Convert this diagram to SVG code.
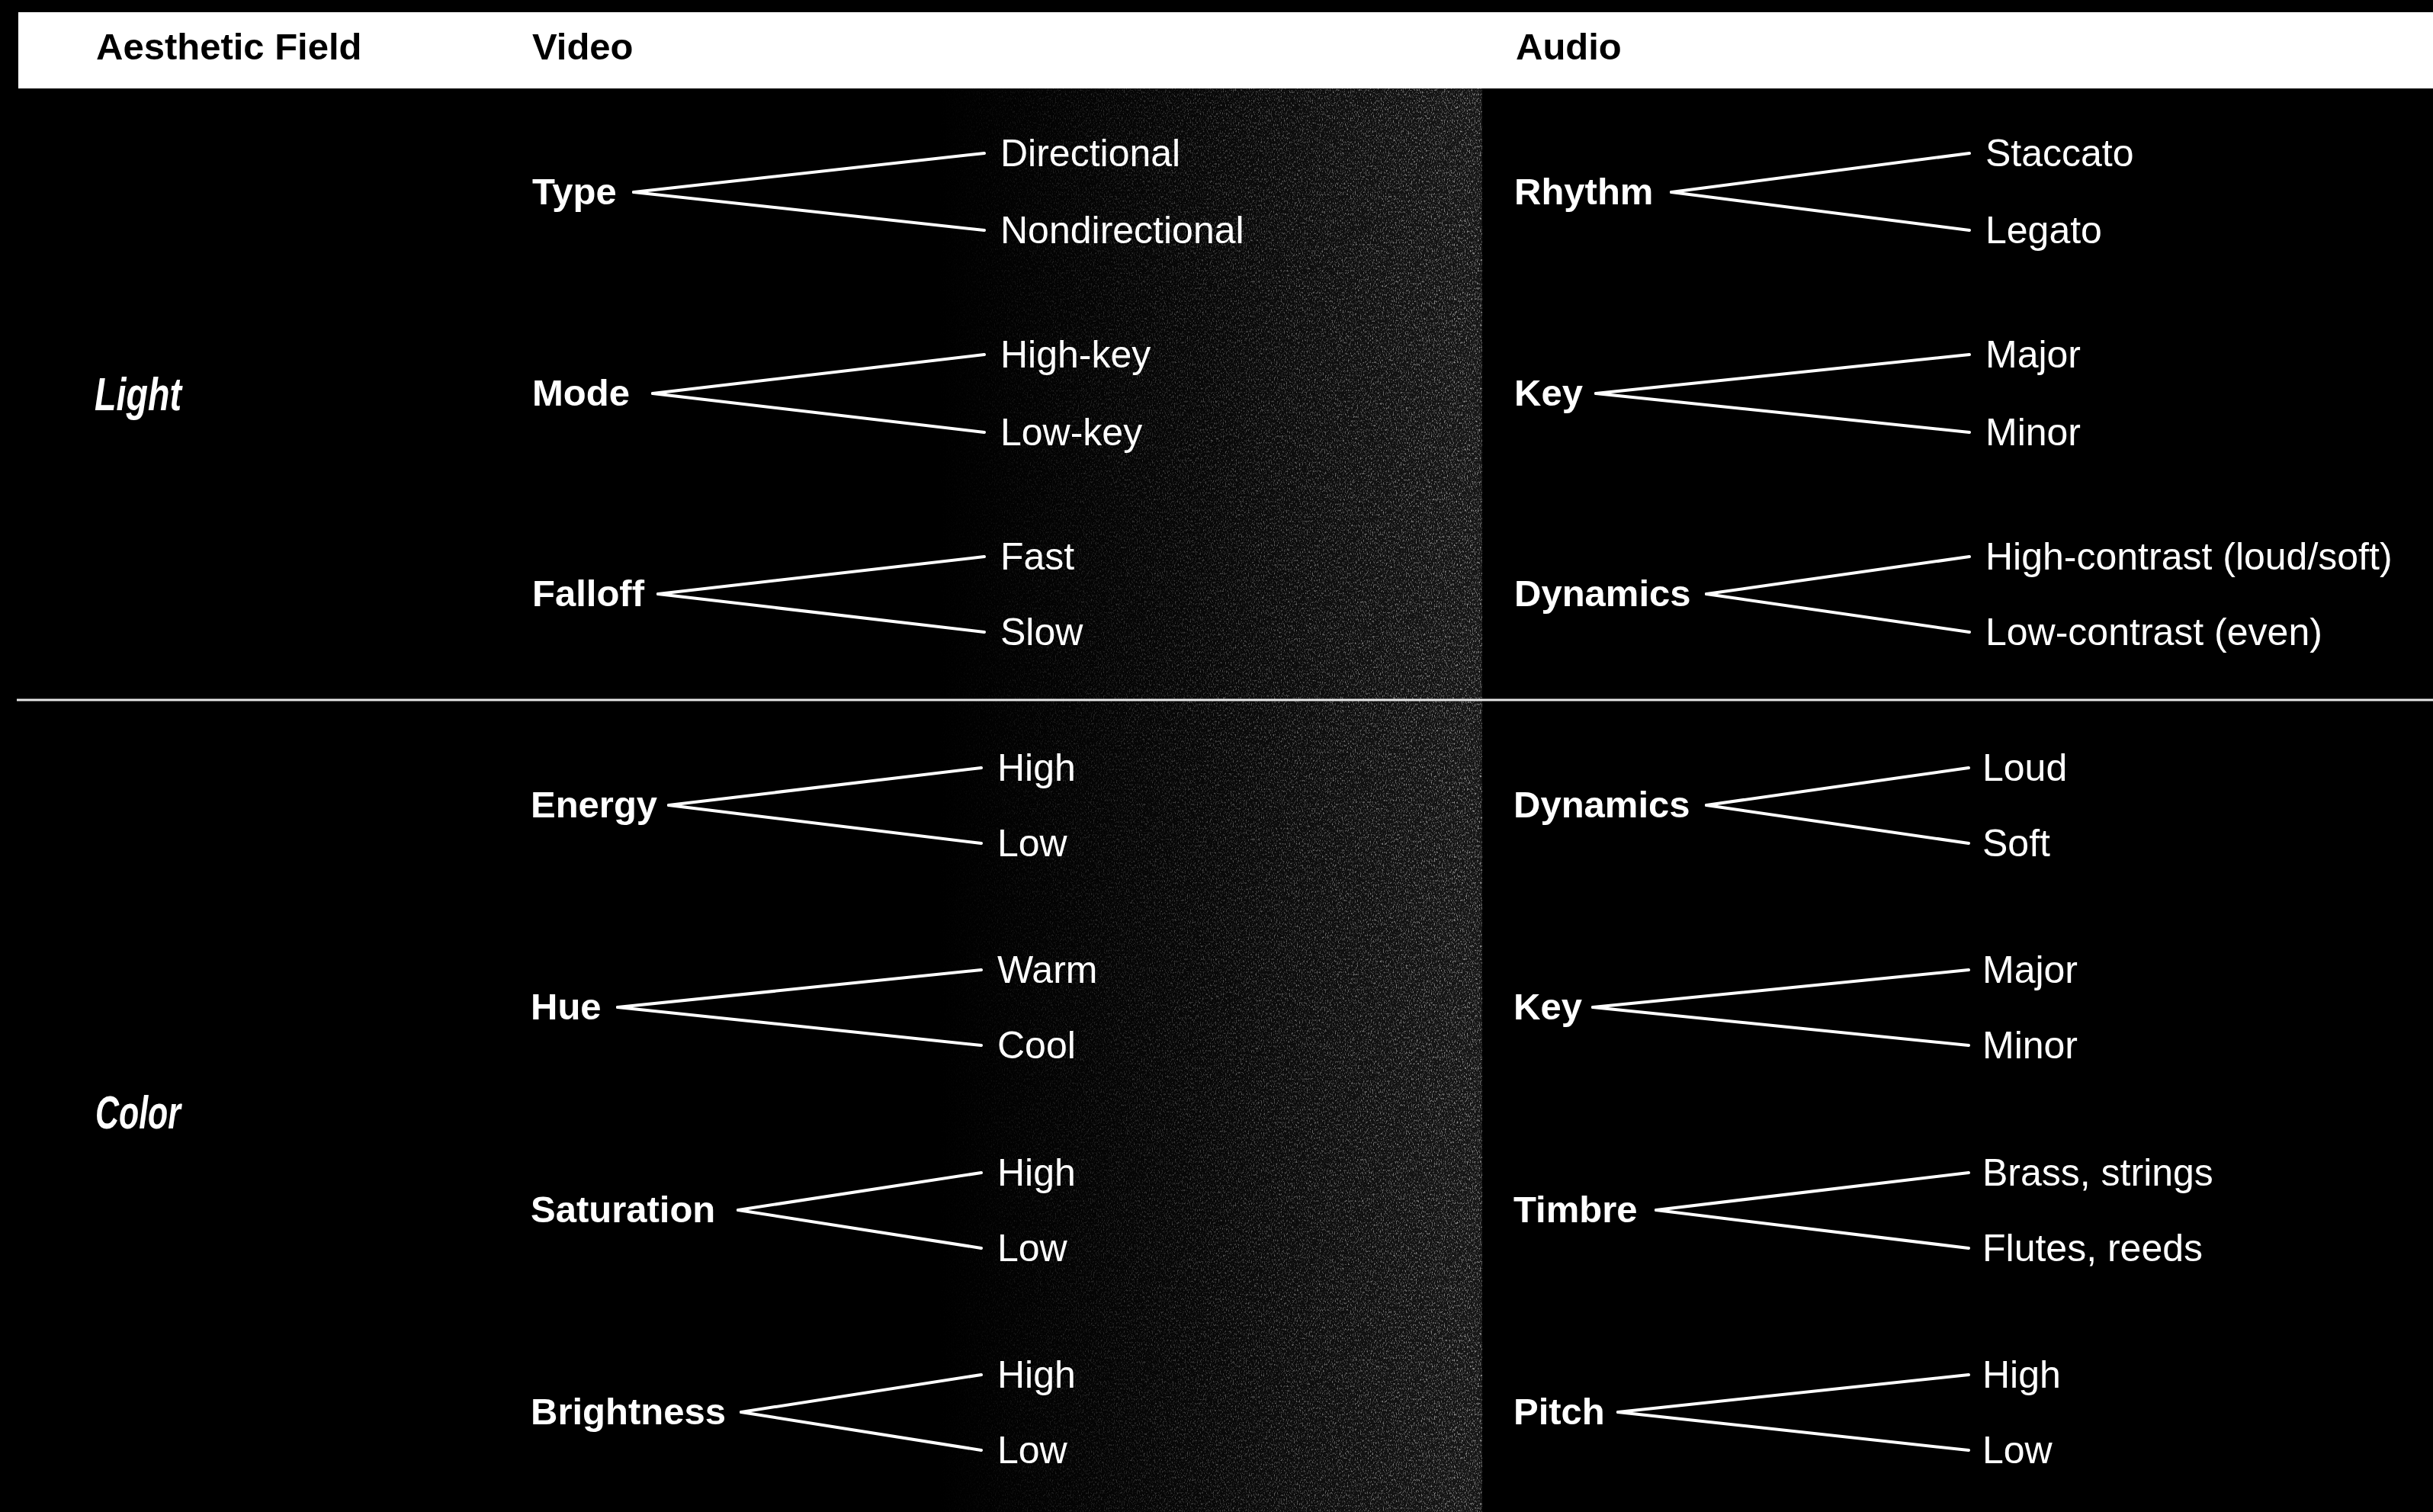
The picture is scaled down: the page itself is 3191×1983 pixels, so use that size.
<svg xmlns="http://www.w3.org/2000/svg" width="3191" height="1983" viewBox="0 0 3191 1983">
<style>
text{font-family:"Liberation Sans",Arial,sans-serif;fill:#fff}
.hd{font-weight:bold;font-size:49px;fill:#000}
.lb{font-weight:bold;font-size:49px}
.ch{font-size:50px}
.fd{font-weight:bold;font-style:italic;font-size:62px}
.cn line{stroke:#fff;stroke-width:4;stroke-linecap:round}
</style>
<defs>
<linearGradient id="band" x1="0" y1="0" x2="1" y2="0">
<stop offset="0" stop-color="#000"/>
<stop offset="0.5" stop-color="#080808"/>
<stop offset="1" stop-color="#161616"/>
</linearGradient>
<linearGradient id="bandA" x1="0" y1="0" x2="1" y2="0">
<stop offset="0" stop-color="#fff" stop-opacity="0"/>
<stop offset="0.45" stop-color="#fff" stop-opacity="0.25"/>
<stop offset="1" stop-color="#fff" stop-opacity="0.55"/>
</linearGradient>
<filter id="noise" x="0" y="0" width="1" height="1">
<feTurbulence type="fractalNoise" baseFrequency="0.7 0.35" numOctaves="2" seed="7" result="t"/>
<feColorMatrix in="t" type="matrix" values="0 0 0 0 1 0 0 0 0 1 0 0 0 0 1 4 0 0 0 -2.1" result="specks"/>
<feComposite in="specks" in2="SourceGraphic" operator="in"/>
</filter>
</defs>
<rect width="3191" height="1983" fill="#000"/>
<g id="texture">
<rect x="1230" y="116" width="714" height="1867" fill="url(#band)"/>
<rect x="1230" y="116" width="714" height="1867" fill="url(#bandA)" filter="url(#noise)"/>
</g>
<g id="header">
<rect x="24" y="16" width="3167" height="100" fill="#fff"/>
<text class="hd" x="126" y="78">Aesthetic Field</text>
<text class="hd" x="698" y="78">Video</text>
<text class="hd" x="1988" y="78">Audio</text>
</g>
<line id="divider" x1="22" y1="918" x2="3191" y2="918" stroke="#e6e6e6" stroke-width="3"/>
<g id="field-light"><text class="fd" x="124" y="538" textLength="114" lengthAdjust="spacingAndGlyphs">Light</text></g>
<g id="field-color"><text class="fd" x="125" y="1480" textLength="112" lengthAdjust="spacingAndGlyphs">Color</text></g>

<g class="cn" id="connectors">
<line x1="831" y1="252" x2="1291" y2="201"/><line x1="831" y1="252" x2="1291" y2="302"/>
<line x1="856" y1="516" x2="1291" y2="465"/><line x1="856" y1="516" x2="1291" y2="567"/>
<line x1="863" y1="779" x2="1291" y2="730"/><line x1="863" y1="779" x2="1291" y2="829"/>
<line x1="877" y1="1056" x2="1287" y2="1007"/><line x1="877" y1="1056" x2="1287" y2="1106"/>
<line x1="810" y1="1321" x2="1287" y2="1272"/><line x1="810" y1="1321" x2="1287" y2="1371"/>
<line x1="968" y1="1587" x2="1287" y2="1538"/><line x1="968" y1="1587" x2="1287" y2="1637"/>
<line x1="972" y1="1852" x2="1287" y2="1803"/><line x1="972" y1="1852" x2="1287" y2="1902"/>
<line x1="2192" y1="252" x2="2583" y2="201"/><line x1="2192" y1="252" x2="2583" y2="302"/>
<line x1="2093" y1="516" x2="2583" y2="465"/><line x1="2093" y1="516" x2="2583" y2="567"/>
<line x1="2238" y1="779" x2="2583" y2="730"/><line x1="2238" y1="779" x2="2583" y2="829"/>
<line x1="2238" y1="1056" x2="2582" y2="1007"/><line x1="2238" y1="1056" x2="2582" y2="1106"/>
<line x1="2089" y1="1321" x2="2582" y2="1272"/><line x1="2089" y1="1321" x2="2582" y2="1371"/>
<line x1="2172" y1="1587" x2="2582" y2="1538"/><line x1="2172" y1="1587" x2="2582" y2="1637"/>
<line x1="2122" y1="1852" x2="2582" y2="1803"/><line x1="2122" y1="1852" x2="2582" y2="1902"/>
</g>

<g id="v-type"><text class="lb" x="698" y="268">Type</text><text class="ch" x="1312" y="218">Directional</text><text class="ch" x="1312" y="319">Nondirectional</text></g>
<g id="v-mode"><text class="lb" x="698" y="532">Mode</text><text class="ch" x="1312" y="482">High-key</text><text class="ch" x="1312" y="584">Low-key</text></g>
<g id="v-falloff"><text class="lb" x="698" y="795">Falloff</text><text class="ch" x="1312" y="747">Fast</text><text class="ch" x="1312" y="846">Slow</text></g>

<g id="v-energy"><text class="lb" x="696" y="1072">Energy</text><text class="ch" x="1308" y="1024">High</text><text class="ch" x="1308" y="1123">Low</text></g>
<g id="v-hue"><text class="lb" x="696" y="1337">Hue</text><text class="ch" x="1308" y="1289">Warm</text><text class="ch" x="1308" y="1388">Cool</text></g>
<g id="v-saturation"><text class="lb" x="696" y="1603">Saturation</text><text class="ch" x="1308" y="1555">High</text><text class="ch" x="1308" y="1654">Low</text></g>
<g id="v-brightness"><text class="lb" x="696" y="1868">Brightness</text><text class="ch" x="1308" y="1820">High</text><text class="ch" x="1308" y="1919">Low</text></g>

<g id="a-rhythm"><text class="lb" x="1986" y="268">Rhythm</text><text class="ch" x="2604" y="218">Staccato</text><text class="ch" x="2604" y="319">Legato</text></g>
<g id="a-key1"><text class="lb" x="1986" y="532">Key</text><text class="ch" x="2604" y="482">Major</text><text class="ch" x="2604" y="584">Minor</text></g>
<g id="a-dynamics1"><text class="lb" x="1986" y="795">Dynamics</text><text class="ch" x="2604" y="747">High-contrast (loud/soft)</text><text class="ch" x="2604" y="846">Low-contrast (even)</text></g>

<g id="a-dynamics2"><text class="lb" x="1985" y="1072">Dynamics</text><text class="ch" x="2600" y="1024">Loud</text><text class="ch" x="2600" y="1123">Soft</text></g>
<g id="a-key2"><text class="lb" x="1985" y="1337">Key</text><text class="ch" x="2600" y="1289">Major</text><text class="ch" x="2600" y="1388">Minor</text></g>
<g id="a-timbre"><text class="lb" x="1985" y="1603">Timbre</text><text class="ch" x="2600" y="1555">Brass, strings</text><text class="ch" x="2600" y="1654">Flutes, reeds</text></g>
<g id="a-pitch"><text class="lb" x="1985" y="1868">Pitch</text><text class="ch" x="2600" y="1820">High</text><text class="ch" x="2600" y="1919">Low</text></g>
</svg>
